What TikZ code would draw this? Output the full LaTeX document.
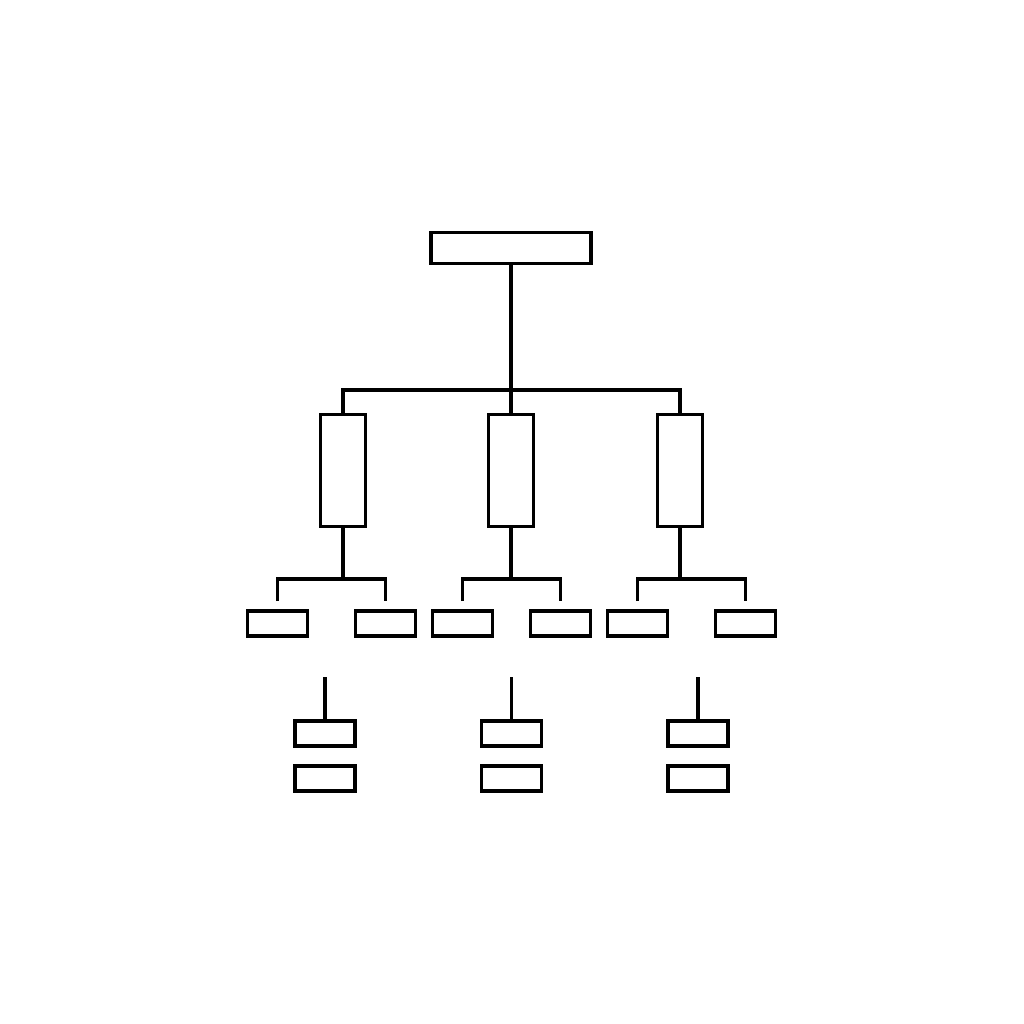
\documentclass[tikz,border=0pt]{standalone}
\begin{document}
\begin{tikzpicture}[x=1pt,y=-1pt,line width=3.4pt,
  box/.style={draw=black,rectangle,inner sep=0pt,outer sep=0pt},
  topbox/.style={box,minimum width=160pt,minimum height=31pt},
  midbox/.style={box,minimum width=45pt,minimum height=112pt},
  leaf/.style={box,minimum width=60pt,minimum height=25pt},
  conn/.style={draw=black,line width=3.4pt}]
\useasboundingbox[fill=white] (0,0) rectangle (1024,1024);
% top
\node[topbox] (top) at (511,248) {};
% middle boxes
\node[midbox] (m1) at (343,470.5) {};
\node[midbox] (m2) at (511,470.5) {};
\node[midbox] (m3) at (680,470.5) {};
\coordinate (bar) at (511,390);
\draw[conn] (top.south) -- (bar);
\draw[conn] (m1.north) |- (bar);
\draw[conn] (m3.north) |- (bar);
\draw[conn] (bar) -- (m2.north);
% leaf boxes row
\node[leaf] (l1) at (277.5,623.5) {};
\node[leaf] (l2) at (385.5,623.5) {};
\node[leaf] (l3) at (462.5,623.5) {};
\node[leaf] (l4) at (560.5,623.5) {};
\node[leaf] (l5) at (637.5,623.5) {};
\node[leaf] (l6) at (745.5,623.5) {};
\coordinate (e1) at (277.5,601);
\coordinate (e2) at (385.5,601);
\coordinate (e3) at (462.5,601);
\coordinate (e4) at (560.5,601);
\coordinate (e5) at (637.5,601);
\coordinate (e6) at (745.5,601);
\draw[conn] (m1.south) -- (343,579);
\draw[conn] (e1) |- (343,579) -| (e2);
\draw[conn] (m2.south) -- (511,579);
\draw[conn] (e3) |- (511,579) -| (e4);
\draw[conn] (m3.south) -- (680,579);
\draw[conn] (e5) |- (680,579) -| (e6);
% bottom stacks
\node[leaf] (b1) at (325,733.5) {};
\node[leaf] (c1) at (325,778.5) {};
\node[leaf] (b2) at (511.5,733.5) {};
\node[leaf] (c2) at (511.5,778.5) {};
\node[leaf] (b3) at (698,733.5) {};
\node[leaf] (c3) at (698,778.5) {};
\coordinate (t1) at (325,677);
\coordinate (t2) at (511.5,677);
\coordinate (t3) at (698,677);
\draw[conn] (t1) -- (b1.north);
\draw[conn] (t2) -- (b2.north);
\draw[conn] (t3) -- (b3.north);
\end{tikzpicture}
\end{document}
